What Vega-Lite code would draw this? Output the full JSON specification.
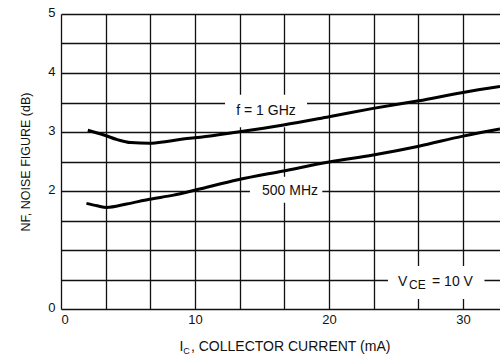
{
  "$schema": "https://vega.github.io/schema/vega-lite/v6.json",
  "autosize": {"type": "none"},
  "padding": {"left": 61, "top": 14, "right": 0, "bottom": 47},
  "width": 439,
  "height": 295,
  "background": "white",
  "config": {
    "view": {"stroke": null},
    "font": "Liberation Sans",
    "axis": {
      "domain": false,
      "ticks": false,
      "grid": true,
      "gridColor": "#111111",
      "gridWidth": 1.3,
      "gridOpacity": 1,
      "labelFont": "Liberation Sans",
      "labelColor": "#111111",
      "labelFontSize": 13,
      "titleFont": "Liberation Sans",
      "titleColor": "#111111",
      "titleFontWeight": "normal"
    }
  },
  "datasets": {
    "curves": [
      {"ic": 2.0, "nf": 3.03, "f": "1 GHz"},
      {"ic": 3.2, "nf": 2.95, "f": "1 GHz"},
      {"ic": 4.2, "nf": 2.87, "f": "1 GHz"},
      {"ic": 5.2, "nf": 2.82, "f": "1 GHz"},
      {"ic": 6.6, "nf": 2.81, "f": "1 GHz"},
      {"ic": 7.9, "nf": 2.84, "f": "1 GHz"},
      {"ic": 9.1, "nf": 2.88, "f": "1 GHz"},
      {"ic": 10.4, "nf": 2.91, "f": "1 GHz"},
      {"ic": 13.2, "nf": 3.0, "f": "1 GHz"},
      {"ic": 16.6, "nf": 3.12, "f": "1 GHz"},
      {"ic": 20.0, "nf": 3.26, "f": "1 GHz"},
      {"ic": 23.3, "nf": 3.4, "f": "1 GHz"},
      {"ic": 26.7, "nf": 3.53, "f": "1 GHz"},
      {"ic": 30.0, "nf": 3.67, "f": "1 GHz"},
      {"ic": 32.76, "nf": 3.77, "f": "1 GHz"},
      {"ic": 1.9, "nf": 1.79, "f": "500 MHz"},
      {"ic": 2.7, "nf": 1.75, "f": "500 MHz"},
      {"ic": 3.4, "nf": 1.72, "f": "500 MHz"},
      {"ic": 4.9, "nf": 1.78, "f": "500 MHz"},
      {"ic": 6.6, "nf": 1.86, "f": "500 MHz"},
      {"ic": 8.4, "nf": 1.93, "f": "500 MHz"},
      {"ic": 10.1, "nf": 2.02, "f": "500 MHz"},
      {"ic": 13.2, "nf": 2.19, "f": "500 MHz"},
      {"ic": 16.6, "nf": 2.34, "f": "500 MHz"},
      {"ic": 20.0, "nf": 2.49, "f": "500 MHz"},
      {"ic": 23.3, "nf": 2.61, "f": "500 MHz"},
      {"ic": 26.7, "nf": 2.76, "f": "500 MHz"},
      {"ic": 30.0, "nf": 2.93, "f": "500 MHz"},
      {"ic": 32.76, "nf": 3.05, "f": "500 MHz"}
    ],
    "boxes": [
      {"x": 12.24, "x2": 18.36, "y": 3.08, "y2": 3.63},
      {"x": 14.1, "x2": 19.5, "y": 1.8, "y2": 2.24},
      {"x": 24.4, "x2": 31.6, "y": 0.17, "y2": 0.73}
    ],
    "labels": [
      {"x": 15.3, "y": 3.36, "t": "f = 1 GHz"},
      {"x": 17.09, "y": 2.0, "t": "500 MHz"}
    ],
    "vce": [
      {"x": 25.15, "y": 0.39, "t": "V"},
      {"x": 27.69, "y": 0.39, "t": "= 10 V"}
    ],
    "vcesub": [
      {"x": 25.97, "y": 0.34, "t": "CE"}
    ],
    "xtitle": [
      {"x": 8.85, "y": -0.72, "t": "I"},
      {"x": 9.7, "y": -0.72, "t": ", COLLECTOR CURRENT (mA)"}
    ],
    "xtitlesub": [
      {"x": 9.12, "y": -0.76, "t": "C"}
    ]
  },
  "encoding": {
    "x": {
      "type": "quantitative",
      "scale": {"domain": [0, 32.76], "nice": false, "zero": false},
      "axis": {
        "title": null,
        "values": [0, 3.3333, 6.6667, 10, 13.3333, 16.6667, 20, 23.3333, 26.6667, 30],
        "labelExpr": "abs(datum.value - round(datum.value / 10) * 10) < 0.01 ? format(round(datum.value), 'd') : ''",
        "labelPadding": 4
      }
    },
    "y": {
      "type": "quantitative",
      "scale": {"domain": [0, 5], "nice": false, "zero": false},
      "axis": {
        "title": "NF, NOISE FIGURE (dB)",
        "titleFontSize": 12.5,
        "titlePadding": 15,
        "values": [0, 0.5, 1, 1.5, 2, 2.5, 3, 3.5, 4, 4.5, 5],
        "labelExpr": "(datum.value == 0 || datum.value == 2 || datum.value == 3 || datum.value == 4 || datum.value == 5) ? format(datum.value, 'd') : ''",
        "labelPadding": 6,
        "labelOffset": -2
      }
    }
  },
  "layer": [
    {
      "data": {"name": "boxes"},
      "mark": {"type": "rect", "fill": "white", "stroke": null},
      "encoding": {
        "x": {"field": "x", "type": "quantitative"},
        "x2": {"field": "x2"},
        "y": {"field": "y", "type": "quantitative"},
        "y2": {"field": "y2"}
      }
    },
    {
      "data": {"name": "curves"},
      "mark": {"type": "line", "color": "black", "strokeWidth": 3, "interpolate": "monotone", "clip": true},
      "encoding": {
        "x": {"field": "ic", "type": "quantitative"},
        "y": {"field": "nf", "type": "quantitative"},
        "detail": {"field": "f"}
      }
    },
    {
      "data": {"name": "labels"},
      "mark": {"type": "text", "fontSize": 14, "align": "center", "baseline": "middle", "color": "#111111"},
      "encoding": {
        "x": {"field": "x", "type": "quantitative"},
        "y": {"field": "y", "type": "quantitative"},
        "text": {"field": "t"}
      }
    },
    {
      "data": {"name": "vce"},
      "mark": {"type": "text", "fontSize": 14, "align": "left", "baseline": "alphabetic", "color": "#111111"},
      "encoding": {
        "x": {"field": "x", "type": "quantitative"},
        "y": {"field": "y", "type": "quantitative"},
        "text": {"field": "t"}
      }
    },
    {
      "data": {"name": "vcesub"},
      "mark": {"type": "text", "fontSize": 12, "align": "left", "baseline": "alphabetic", "color": "#111111"},
      "encoding": {
        "x": {"field": "x", "type": "quantitative"},
        "y": {"field": "y", "type": "quantitative"},
        "text": {"field": "t"}
      }
    },
    {
      "data": {"name": "xtitle"},
      "mark": {"type": "text", "fontSize": 14, "align": "left", "baseline": "alphabetic", "color": "#111111"},
      "encoding": {
        "x": {"field": "x", "type": "quantitative"},
        "y": {"field": "y", "type": "quantitative"},
        "text": {"field": "t"}
      }
    },
    {
      "data": {"name": "xtitlesub"},
      "mark": {"type": "text", "fontSize": 9, "align": "left", "baseline": "alphabetic", "color": "#111111"},
      "encoding": {
        "x": {"field": "x", "type": "quantitative"},
        "y": {"field": "y", "type": "quantitative"},
        "text": {"field": "t"}
      }
    }
  ]
}
